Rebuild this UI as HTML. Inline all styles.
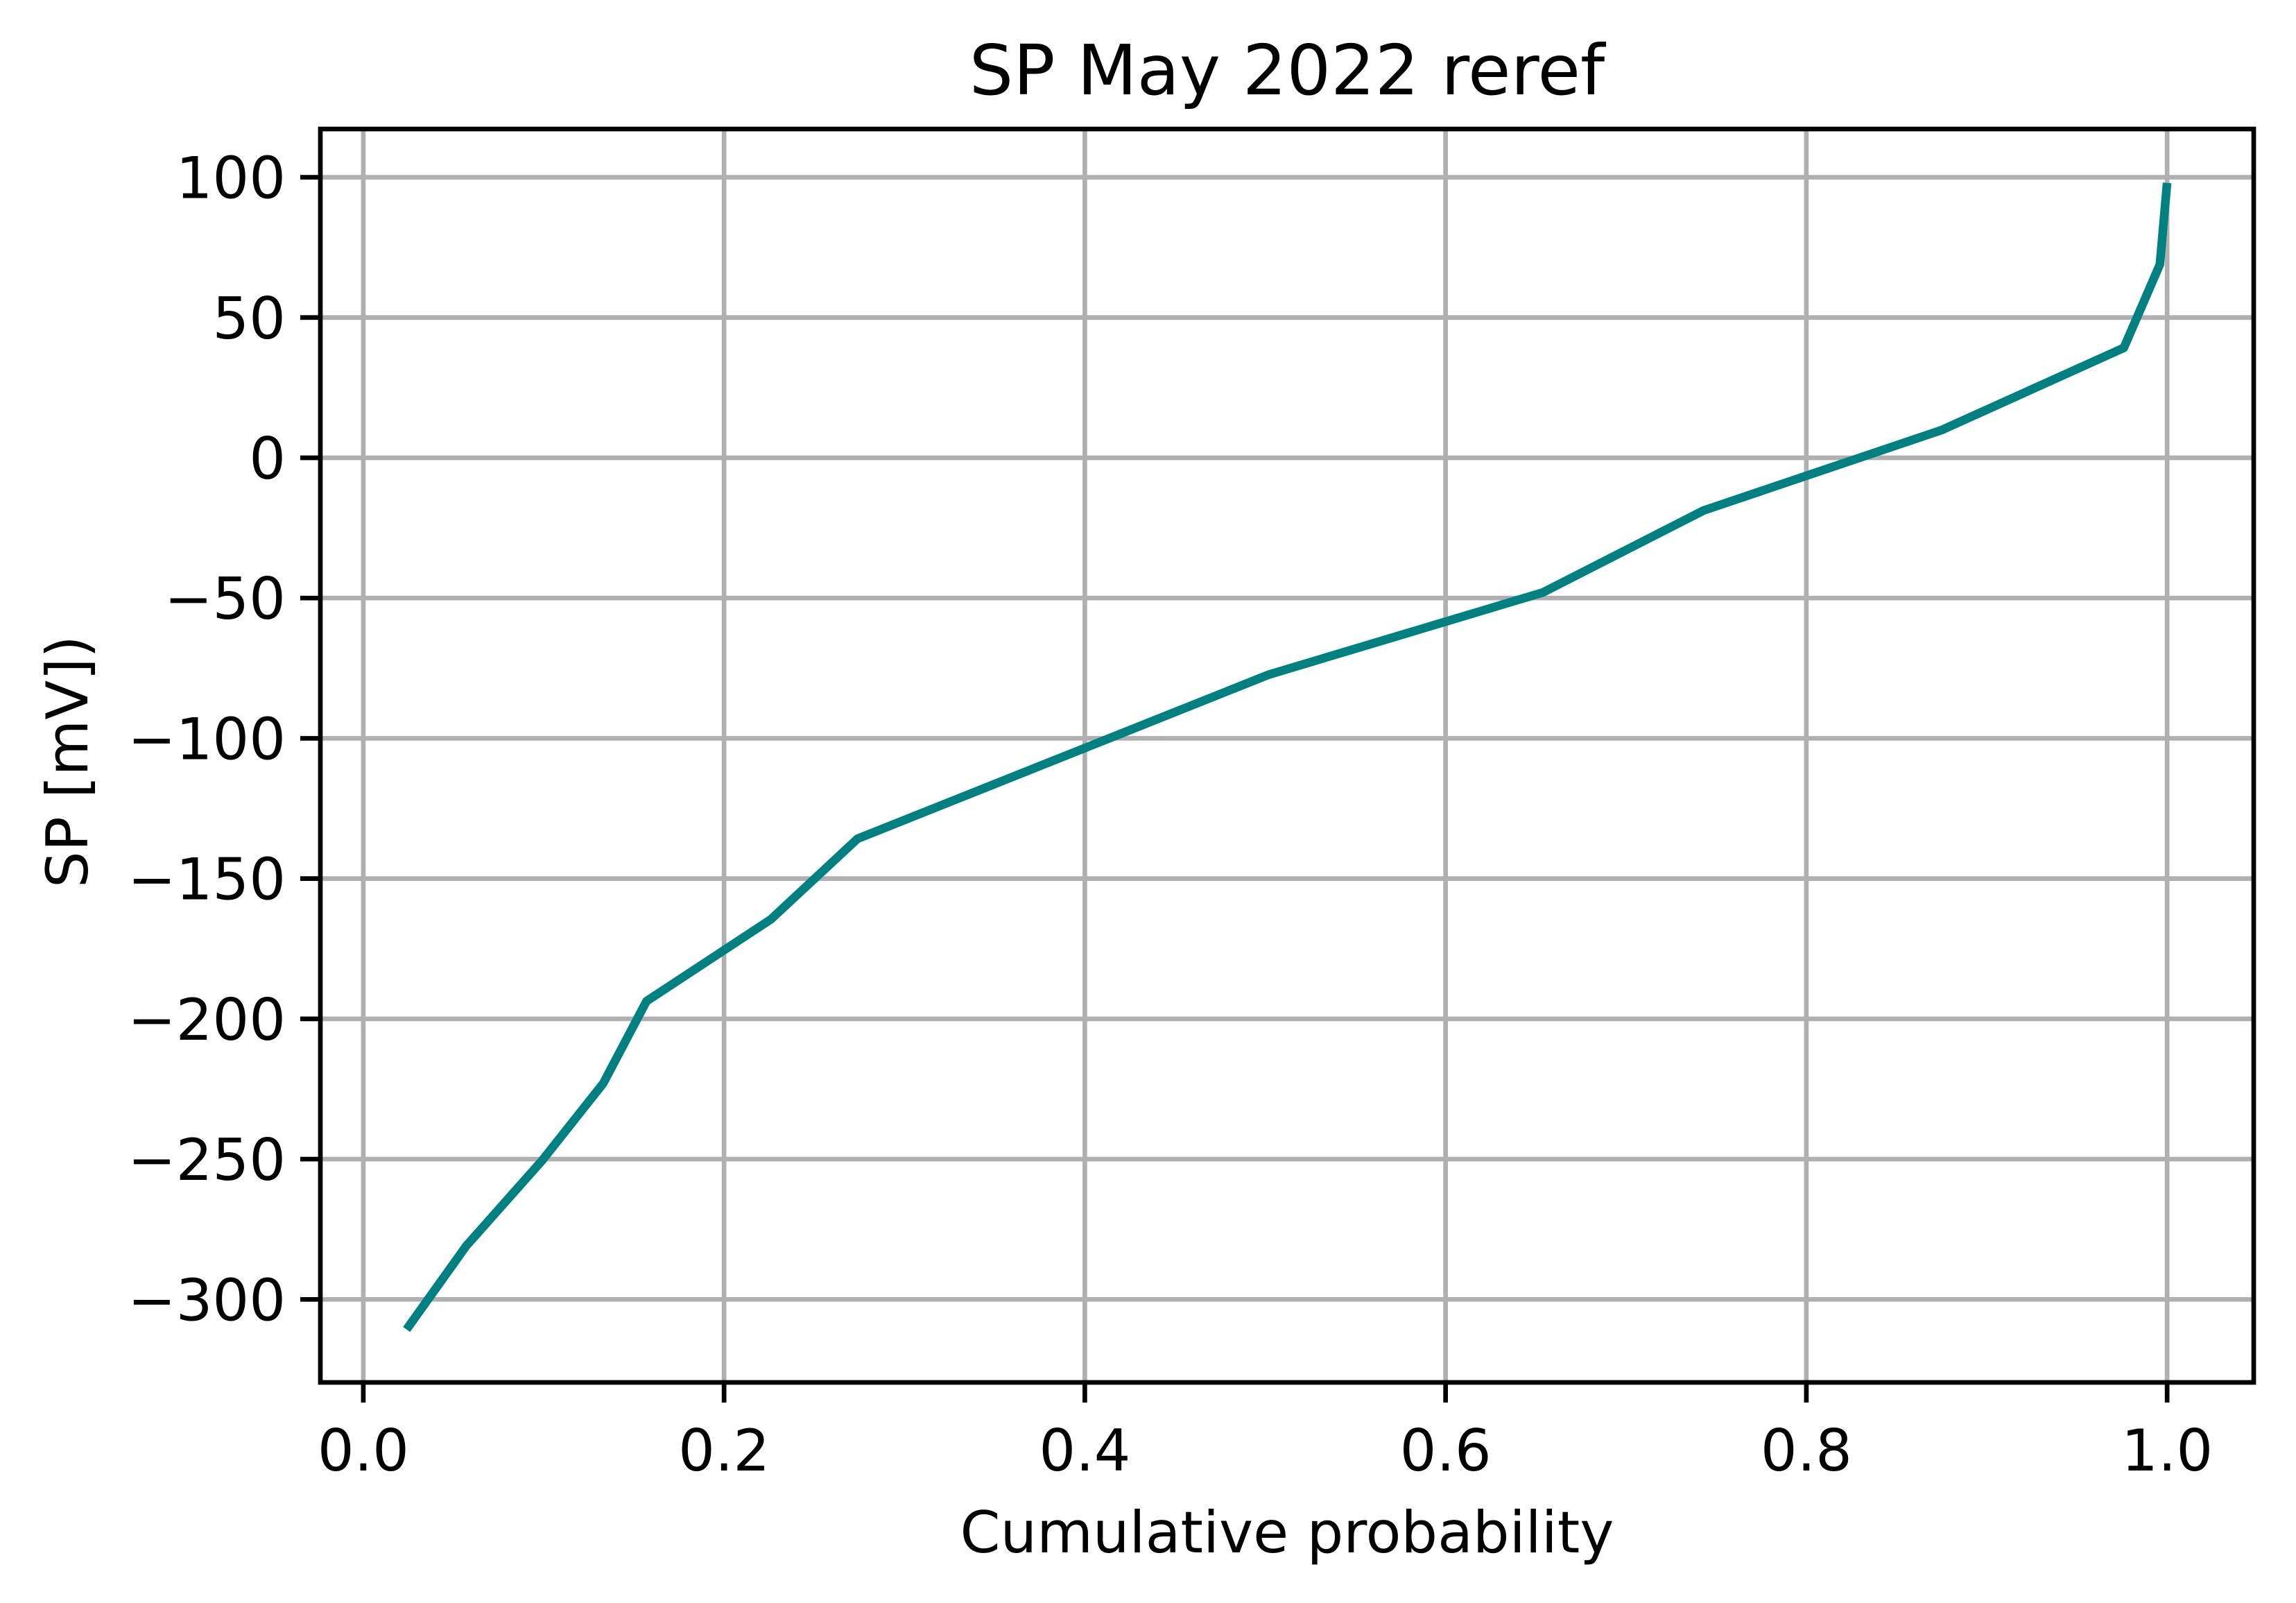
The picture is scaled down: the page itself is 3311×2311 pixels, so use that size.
<!DOCTYPE html>
<html><head><meta charset="utf-8"><style>
html,body{margin:0;padding:0;background:#fff;}
svg{display:block;font-family:"DejaVu Sans","Liberation Sans",sans-serif;}
</style></head><body>
<svg id="chart" width="3311" height="2311" viewBox="0 0 3311 2311" xmlns="http://www.w3.org/2000/svg">
<rect x="0" y="0" width="3311" height="2311" fill="#fff"/>
<g id="grid"></g>
<g id="series"></g>
<rect x="462" y="186" width="2788" height="1807" fill="none" stroke="#000" stroke-width="6.7"/>
<g id="ticks"></g>
<text x="1856" y="136" font-size="100" text-anchor="middle">SP May 2022 reref</text>
<text x="1856" y="2238" font-size="83" text-anchor="middle">Cumulative probability</text>
<text transform="translate(126,1098) rotate(-90)" font-size="83" text-anchor="middle">SP [mV])</text>
</svg>
<script>
const xValues = [0.024, 0.057, 0.099, 0.133, 0.157, 0.226, 0.274, 0.502, 0.654, 0.743, 0.875, 0.976, 0.996, 1.0];
const yValues = [-310.7, -281, -250.6, -223, -193.7, -164.5, -135.8, -77.3, -48, -18.8, 9.9, 39.2, 68.9, 98];
const xTicks = [0.0, 0.2, 0.4, 0.6, 0.8, 1.0];
const xTickLabels = ["0.0", "0.2", "0.4", "0.6", "0.8", "1.0"];
const yTicks = [100, 50, 0, -50, -100, -150, -200, -250, -300];
const yTickLabels = ["100", "50", "0", "\u221250", "\u2212100", "\u2212150", "\u2212200", "\u2212250", "\u2212300"];

const L = 462, R = 3250, T = 186, B = 1993;
const xMin = -0.0238, xMax = 1.048, yMin = -329.6, yMax = 117.2;
function sx(v){ return L + (v - xMin) / (xMax - xMin) * (R - L); }
function sy(v){ return B - (v - yMin) / (yMax - yMin) * (B - T); }
const NS = "http://www.w3.org/2000/svg";
const grid = document.getElementById('grid');
const ticks = document.getElementById('ticks');
function mk(tag, attrs){ const e = document.createElementNS(NS, tag); for (const k in attrs) e.setAttribute(k, attrs[k]); return e; }

xTicks.forEach((v, i) => {
  const x = sx(v);
  const g = mk('line', {x1:x, x2:x, y1:T, y2:B, stroke:'#b0b0b0', 'stroke-width':6.7});
  
  
  grid.appendChild(g);
  const t = mk('line', {x1:x, x2:x, y1:B, y2:B+29, stroke:'#000', 'stroke-width':6.7});
  
  
  ticks.appendChild(t);
  const l = mk('text', {x:x, y:2120, 'font-size':83, 'text-anchor':'middle'});
  
  
  l.textContent = xTickLabels[i];
  ticks.appendChild(l);
});
yTicks.forEach((v, i) => {
  const y = sy(v);
  const g = mk('line', {x1:L, x2:R, y1:y, y2:y, stroke:'#b0b0b0', 'stroke-width':6.7});
  
  
  grid.appendChild(g);
  const t = mk('line', {x1:L-29, x2:L, y1:y, y2:y, stroke:'#000', 'stroke-width':6.7});
  
  
  ticks.appendChild(t);
  const l = mk('text', {x:L-50, y:y+30, 'font-size':83, 'text-anchor':'end'});
  
  
  l.textContent = yTickLabels[i];
  ticks.appendChild(l);
});
const pts = xValues.map((v, i) => sx(v).toFixed(1) + ',' + sy(yValues[i]).toFixed(1)).join(' ');
const line = mk('polyline', {points:pts, fill:'none', stroke:'#008080', 'stroke-width':12.5, 'stroke-linejoin':'round'});


document.getElementById('series').appendChild(line);
</script>
</body></html>
